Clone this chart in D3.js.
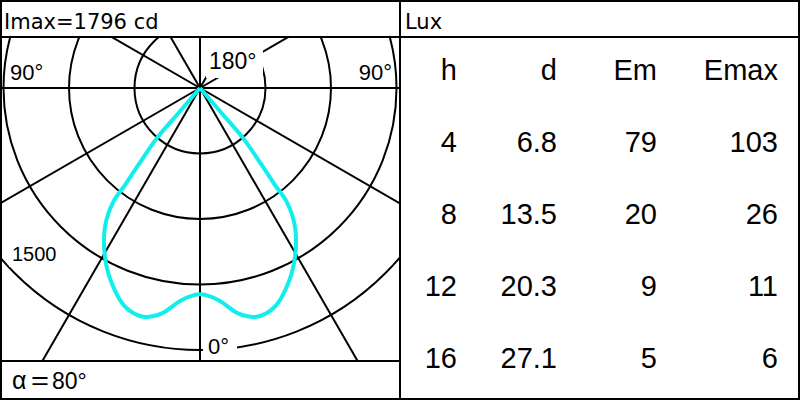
<!DOCTYPE html>
<html>
<head>
<meta charset="utf-8">
<script src="https://cdn.jsdelivr.net/npm/d3@7"></script>
<style>
  body { margin: 0; background: #fff; }
  svg { display: block; }
</style>
</head>
<body>
<div id="chart"></div>
<script>
// luminous intensity, C0 half (symmetric), gamma in degrees, I in cd
const gammas = [0, 4.9, 9.6, 13.9, 18.9, 24.3, 29.4, 34.4, 37.3, 37.7, 38.7, 40.7, 40.8, 42];
const intensity = [1575, 1624, 1745, 1799, 1765, 1636, 1478, 1283, 1091, 936, 753, 507, 272, 0];
const rings = [500, 1000, 1500, 2000];
const spokes = [0, 30, 60, 90, 120, 150, 180, 210, 240, 270, 300, 330];

// lux table
const headers = ["h", "d", "Em", "Emax"];
const hVals = ["4", "8", "12", "16"];
const dVals = ["6.8", "13.5", "20.3", "27.1"];
const emVals = ["79", "20", "9", "5"];
const emaxVals = ["103", "26", "11", "6"];

const width = 800;
const height = 400;
const cx = 200, cy = 88;

const svg = d3.select("#chart").append("svg")
  .attr("width", width)
  .attr("height", height);

svg.append("defs").append("clipPath").attr("id", "plotclip")
  .append("rect").attr("x", 1).attr("y", 38).attr("width", 398).attr("height", 323);

const r = d3.scaleLinear().domain([0, 2000]).range([0, 262]);

const plot = svg.append("g").attr("clip-path", "url(#plotclip)");
const g = plot.append("g").attr("transform", `translate(${cx},${cy})`);

// rings
g.selectAll("circle.ring").data(rings).enter().append("circle")
  .attr("class", "ring")
  .attr("r", d => r(d))
  .attr("fill", "none")
  .attr("stroke", "#000")
  .attr("stroke-width", 2);

// spokes
g.selectAll("line.spoke").data(spokes).enter().append("line")
  .attr("class", "spoke")
  .attr("x1", 0).attr("y1", 0)
  .attr("x2", d => 600 * Math.cos(d * Math.PI / 180))
  .attr("y2", d => 600 * Math.sin(d * Math.PI / 180))
  .attr("stroke", "#000")
  .attr("stroke-width", 2);

// label boxes (white) and labels
function label(x, y, text, anchor, size, box) {
  if (box) {
    plot.append("rect")
      .attr("x", box[0]).attr("y", box[1]).attr("width", box[2]).attr("height", box[3])
      .attr("fill", "#fff");
  }
  plot.append("text")
    .attr("x", x).attr("y", y)
    .attr("text-anchor", anchor)
    .attr("font-family", "Liberation Sans, Arial, sans-serif")
    .attr("font-size", size)
    .text(text);
}
label(209, 69, "180°", "start", 23, [206, 38, 57, 40]);
label(208, 354, "0°", "start", 22, [203, 332, 34, 26]);
label(10, 80, "90°", "start", 22, null);
label(392, 80, "90°", "end", 22, null);
label(12, 261, "1500", "start", 20, [9, 243, 50, 24]);

// curve
const pts = [];
for (let i = gammas.length - 1; i >= 0; i--) pts.push([Math.PI - gammas[i] * Math.PI / 180, r(intensity[i])]);
for (let i = 1; i < gammas.length; i++) pts.push([Math.PI + gammas[i] * Math.PI / 180, r(intensity[i])]);

const radial = d3.lineRadial()
  .angle(d => d[0])
  .radius(d => d[1])
  .curve(d3.curveCatmullRom.alpha(0.5));

g.append("path")
  .datum(pts)
  .attr("d", radial)
  .attr("fill", "none")
  .attr("stroke", "#10eeee")
  .attr("stroke-width", 4)
  .attr("stroke-linejoin", "round");

// frame
const frame = svg.append("g").attr("stroke", "#000").attr("stroke-width", 2).attr("fill", "none");
frame.append("rect").attr("x", 1).attr("y", 1).attr("width", 798).attr("height", 398);
frame.append("line").attr("x1", 400).attr("y1", 0).attr("x2", 400).attr("y2", 400);
frame.append("line").attr("x1", 0).attr("y1", 37).attr("x2", 800).attr("y2", 37);
frame.append("line").attr("x1", 0).attr("y1", 361).attr("x2", 400).attr("y2", 361);

// headers
svg.append("text").attr("x", 4).attr("y", 29)
  .attr("font-family", "DejaVu Sans, sans-serif").attr("font-size", 21)
  .text("Imax=1796 cd");
svg.append("text").attr("x", 405).attr("y", 29)
  .attr("font-family", "DejaVu Sans, sans-serif").attr("font-size", 21)
  .text("Lux");

// beam angle
const alpha = svg.append("g").attr("font-family", "Liberation Sans, Arial, sans-serif");
alpha.append("text").attr("x", 12).attr("y", 389).attr("font-size", 25).text("α");
alpha.append("text").attr("x", 31).attr("y", 389).attr("font-size", 25)
  .attr("textLength", 18).attr("lengthAdjust", "spacingAndGlyphs").text("=");
alpha.append("text").attr("x", 52).attr("y", 389).attr("font-size", 23).text("80°");

// table
const colX = d3.scaleOrdinal().domain(headers).range([457, 557, 657, 778]);
const rowY = d3.scalePoint().domain([0, 1, 2, 3, 4]).range([80, 368]);
const columns = [hVals, dVals, emVals, emaxVals];
const table = svg.append("g")
  .attr("font-family", "Liberation Sans, Arial, sans-serif")
  .attr("font-size", 29)
  .attr("text-anchor", "end");
headers.forEach((h, c) => {
  table.append("text").attr("x", colX(h)).attr("y", rowY(0)).text(h);
  columns[c].forEach((v, i) => {
    table.append("text").attr("x", colX(h)).attr("y", rowY(i + 1)).text(v);
  });
});
</script>
</body>
</html>
